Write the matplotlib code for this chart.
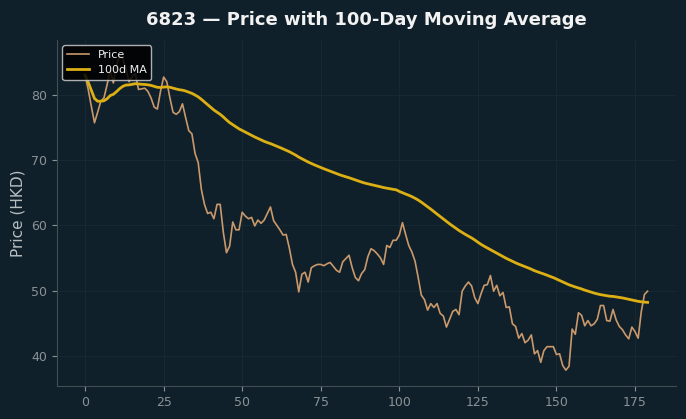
import numpy as np
import pandas as pd
import matplotlib
matplotlib.use("Agg")
import matplotlib.pyplot as plt

# closing prices, one per trading day
price = [
    83.0, 80.8, 78.2, 75.7, 77.3, 79.0, 79.5, 81.5, 83.8, 81.8,
    84.5, 86.0, 85.5, 84.0, 82.0, 82.8, 83.2, 80.8, 80.9, 81.0,
    80.5, 79.5, 78.1, 77.8, 80.5, 82.7, 82.0, 79.5, 77.3, 77.0,
    77.4, 78.6, 76.5, 74.5, 74.0, 71.0, 69.6, 65.5, 63.2, 61.8,
    62.0, 61.0, 63.2, 63.2, 58.9, 55.8, 56.8, 60.5, 59.3, 59.3,
    62.0, 61.4, 61.0, 61.2, 59.9, 60.8, 60.3, 60.8, 61.8, 62.8,
    60.7, 60.0, 59.3, 58.5, 58.6, 56.5, 54.0, 52.8, 49.8, 52.5,
    52.8, 51.3, 53.5, 53.8, 54.0, 54.0, 53.8, 54.1, 54.3, 53.7,
    53.1, 52.8, 54.4, 54.9, 55.4, 53.5, 52.0, 51.5, 52.6, 53.2,
    55.2, 56.4, 56.1, 55.6, 55.0, 54.0, 56.9, 56.6, 57.7, 57.7,
    58.5, 60.4, 58.6, 56.9, 55.9, 54.5, 52.0, 49.3, 48.6, 47.0,
    48.0, 47.4, 48.0, 46.5, 46.1, 44.4, 45.6, 46.8, 47.1, 46.3,
    49.9, 50.7, 51.3, 50.7, 48.9, 48.0, 49.5, 50.8, 50.9, 52.3,
    49.9, 50.8, 49.2, 49.7, 47.4, 47.5, 44.9, 44.5, 42.7, 43.4,
    42.0, 42.4, 43.2, 40.3, 40.8, 39.0, 40.8, 41.4, 41.4, 41.4,
    40.2, 40.3, 38.5, 37.8, 38.4, 44.1, 43.3, 46.6, 46.2, 44.6,
    45.4, 44.6, 44.9, 45.6, 47.7, 47.7, 45.4, 45.3, 47.1, 45.5,
    44.5, 44.0, 43.2, 42.6, 44.4, 43.7, 42.7, 46.8, 49.4, 49.9,
]
ticker = "6823"
window = 100

bg = "#10202a"

s = pd.Series(price)
ma = s.rolling(window, min_periods=1).mean()
days = np.arange(len(price))

fig, ax = plt.subplots(figsize=(6.86, 4.19), dpi=100)
fig.patch.set_facecolor(bg)
ax.set_facecolor(bg)

ax.plot(days, s, color="#c9996b", linewidth=1.2, label="Price")
ax.plot(days, ma, color="#dcb014", linewidth=2.0, label=f"{window}d MA")

ax.grid(True, color="#182a33", linewidth=0.6)
ax.set_axisbelow(True)
for side in ["top", "right"]:
    ax.spines[side].set_visible(False)
for side in ["left", "bottom"]:
    ax.spines[side].set_color("#434e52")

ax.tick_params(colors="#8a9296", labelsize=9)
ax.set_xticks([0, 25, 50, 75, 100, 125, 150, 175])
ax.set_yticks([40, 50, 60, 70, 80])
ax.set_ylabel("Price (HKD)", color="#b8bfc2", fontsize=11)
ax.set_title(f"{ticker} — Price with {window}-Day Moving Average",
             color="#f2f2f2", fontsize=13, fontweight="bold", pad=11)

leg = ax.legend(loc="upper left", fontsize=8, facecolor="#000000",
                edgecolor="#cccccc", framealpha=0.85, borderaxespad=0.5)
for t in leg.get_texts():
    t.set_color("#f0f0f0")

fig.subplots_adjust(left=0.083, right=0.985, bottom=0.079, top=0.905)
fig.savefig("out.png", dpi=100, facecolor=bg)
